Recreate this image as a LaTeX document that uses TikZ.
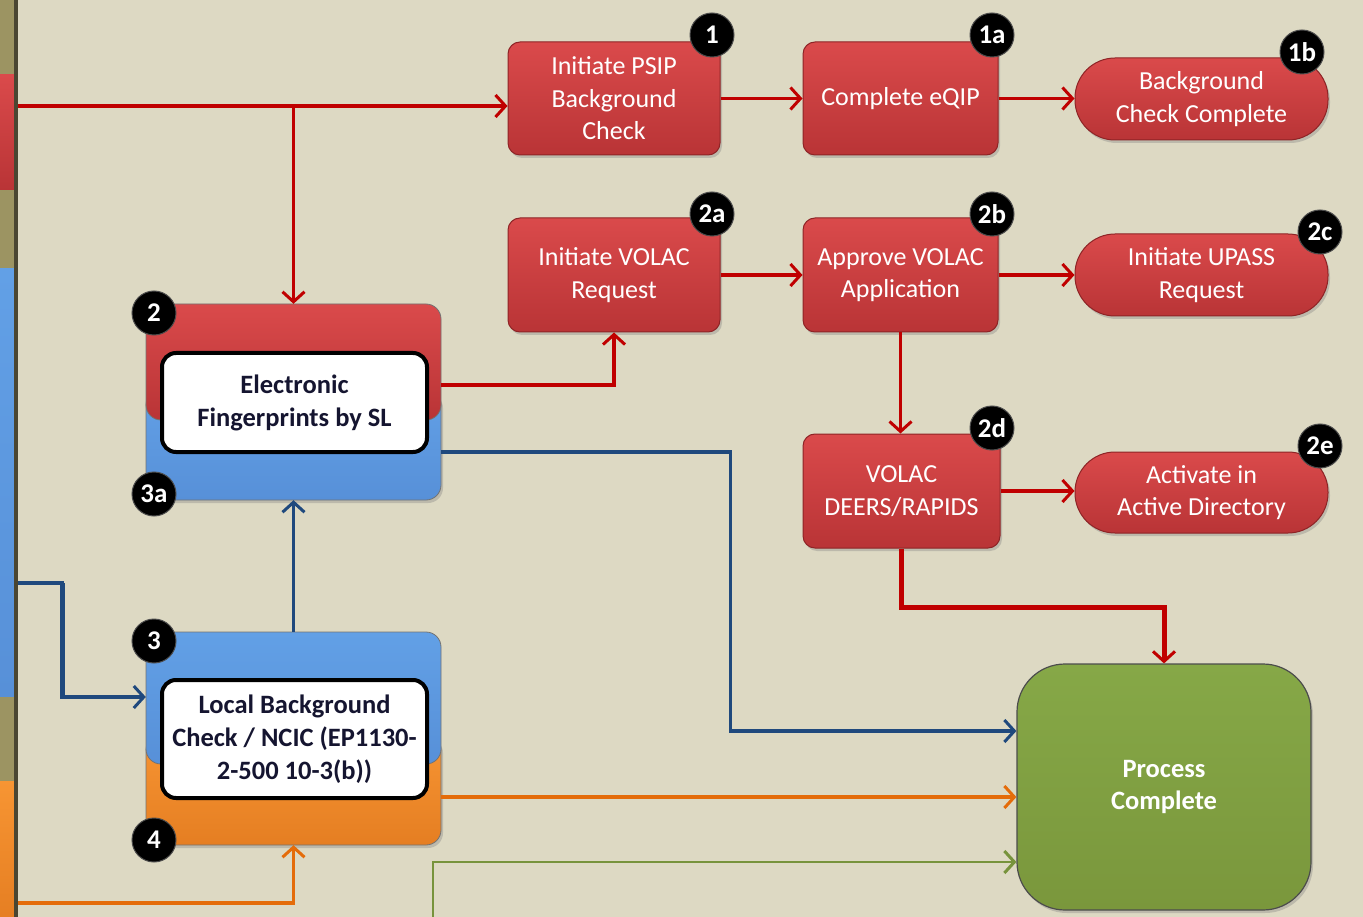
\documentclass[tikz,border=0pt]{standalone}
\usepackage{fontspec}
\setmainfont{Carlito}
\usetikzlibrary{arrows.meta,shadows}
\definecolor{bg}{HTML}{DDD9C3}
\definecolor{olive}{HTML}{9C9462}
\definecolor{stripdark}{HTML}{4A4632}
\definecolor{boxtop}{HTML}{DA4A4B}
\definecolor{boxbot}{HTML}{B93436}
\definecolor{boxedge}{HTML}{8E2426}
\definecolor{bluetop}{HTML}{62A0E6}
\definecolor{bluebot}{HTML}{5790D8}
\definecolor{orgtop}{HTML}{F79533}
\definecolor{orgbot}{HTML}{E57E22}
\definecolor{greentop}{HTML}{86A847}
\definecolor{greenbot}{HTML}{7A973C}
\definecolor{lred}{HTML}{C00000}
\definecolor{lblue}{HTML}{1F497D}
\definecolor{lorange}{HTML}{E46C0A}
\definecolor{lgreen}{HTML}{77933C}
\definecolor{navytext}{HTML}{151530}
\begin{document}
\begin{tikzpicture}[x=1pt,y=-1pt,
  redbox/.style={rectangle, rounded corners=12pt, draw=boxedge, line width=1pt,
    top color=boxtop, bottom color=boxbot, text=white,
    font=\fontsize{26}{32.5}\selectfont, align=center, inner sep=0pt,
    drop shadow={opacity=0.35, shadow xshift=2pt, shadow yshift=-3pt}},
  pill/.style={redbox, rounded corners=40pt},
  badge/.style={circle, fill=black, draw=black!70, line width=1pt, text=white,
    font=\bfseries\fontsize{27}{27}\selectfont, minimum size=44pt, inner sep=0pt},
  whitebox/.style={rectangle, rounded corners=14pt, draw=black, line width=4pt,
    fill=white, text=navytext, font=\bfseries\fontsize{26.5}{33}\selectfont,
    align=center, inner sep=0pt},
  frame/.style={rectangle, minimum width=295pt, inner sep=0pt},
  half/.style={rounded corners=15pt, draw=black!55, line width=0.8pt},
  conn/.style={line width=3.2pt, -{Straight Barb[length=10pt,width=22pt,line width=3pt]}},
  leftblock/.style={rectangle, inner sep=0pt, minimum width=14pt}
]
\useasboundingbox (0,0) rectangle (1363,917);
\fill[bg] (0,0) rectangle (1363,917);

% left strip
\fill[olive] (0,0) rectangle (15,917);
\node[leftblock, minimum height=115pt, top color=boxtop, bottom color=boxbot] (lr) at (7,132.5) {};
\node[leftblock, minimum height=427pt, top color=bluetop, bottom color=bluebot] (lb) at (7,482.5) {};
\node[leftblock, minimum height=140pt, top color=orgtop, bottom color=orgbot] (lo) at (7,851) {};
\fill[stripdark] (14,0) rectangle (18,917);

% red process boxes
\node[redbox, minimum width=212pt, minimum height=113pt] (n1) at (614,98.5) {Initiate PSIP\\Background\\Check};
\node[redbox, minimum width=195pt, minimum height=113pt] (n1a) at (900.5,98.5) {Complete eQIP};
\node[pill, minimum width=253pt, minimum height=82pt] (n1b) at (1201.5,99) {Background\\Check Complete};
\node[redbox, minimum width=212pt, minimum height=114pt] (n2a) at (614,275) {Initiate VOLAC\\Request};
\node[redbox, minimum width=195pt, minimum height=114pt] (n2b) at (900.5,275) {Approve VOLAC\\Application};
\node[pill, minimum width=253pt, minimum height=82pt] (n2c) at (1201.5,275) {Initiate UPASS\\Request};
\node[redbox, minimum width=197pt, minimum height=114pt] (n2d) at (901.5,491) {VOLAC\\DEERS/RAPIDS};
\node[pill, minimum width=253pt, minimum height=81pt] (n2e) at (1201.5,492.5) {Activate in\\Active Directory};

% combined box: fingerprints
\node[frame, minimum height=196pt] (fp) at (293.5,402) {};
\shade[half, top color=bluetop, bottom color=bluebot, drop shadow={opacity=0.35, shadow xshift=2pt, shadow yshift=-3pt}] (146,390) rectangle (441,500);
\shade[half, top color=boxtop, bottom color=boxbot] (146,304) rectangle (441,420);
\node[whitebox, minimum width=265pt, minimum height=99pt] (fpt) at (294.5,402.5) {Electronic\\Fingerprints by SL};

% combined box: local background check
\node[frame, minimum height=213pt] (lbc) at (293.5,738.5) {};
\shade[half, top color=orgtop, bottom color=orgbot, drop shadow={opacity=0.35, shadow xshift=2pt, shadow yshift=-3pt}] (146,735) rectangle (441,845);
\shade[half, top color=bluetop, bottom color=bluebot] (146,632) rectangle (441,764);
\node[whitebox, minimum width=265pt, minimum height=118pt] (lbct) at (294.5,739) {Local Background\\Check / NCIC (EP1130-\\2-500 10-3(b))};

% process complete
\node[rectangle, rounded corners=48pt, draw=black!70, line width=1.2pt,
  top color=greentop, bottom color=greenbot, text=white,
  font=\bfseries\fontsize{26.5}{32.5}\selectfont, align=center,
  minimum width=294pt, minimum height=246pt, inner sep=0pt,
  drop shadow={opacity=0.35, shadow xshift=2pt, shadow yshift=-3pt}] (pc) at (1164,787) {Process\\Complete};

% badges
\node[badge] (b1) at (712,35) {1};
\node[badge] (b1a) at (992,35) {1a};
\node[badge] (b1b) at (1302,52) {1b};
\node[badge] (b2a) at (712,214) {2a};
\node[badge] (b2b) at (992,214) {2b};
\node[badge] (b2c) at (1320,232) {2c};
\node[badge] (b2d) at (992,428) {2d};
\node[badge] (b2e) at (1320,446) {2e};
\node[badge] (b2) at (154,313) {2};
\node[badge] (b3a) at (154,494) {3a};
\node[badge] (b3) at (154,641) {3};
\node[badge] (b4) at (154,840) {4};

% connectors
\coordinate (s1) at (18,106);
\coordinate (s2) at (18,583);
\coordinate (s3) at (18,903);
\coordinate (g0) at (433,917);

\draw[conn, lred] (s1) -- (s1 -| n1.west);
\draw[conn, lred] (s1 -| fp.north) -- (fp.north);
\draw[conn, lred] (n1.east) -- (n1a.west);
\draw[conn, lred] (n1a.east) -- (n1a.east -| n1b.west);
\draw[conn, lred] (n2a.east) -- (n2b.west);
\draw[conn, lred] (n2b.east) -- (n2c.west);
\draw[conn, lred] (n2b.south) -- (n2b.south |- n2d.north);
\draw[conn, lred] (n2d.east) -- (n2d.east -| n2e.west);
\draw[conn, lred, line width=5pt] (n2d.south) -- ++(0,59) -| (pc.north);
\draw[conn, lred] ([yshift=17pt]fp.east) -| (n2a.south);

\draw[conn, lblue] ([yshift=-50pt]fp.east) -- ++(289,0) |- ([yshift=56pt]pc.west);
\draw[conn, lblue] (s2) -- ++(44,0) |- ([yshift=41.5pt]lbc.west);
\draw[lblue, line width=5pt] (62,583) -- (62,697);
\draw[conn, lblue] (lbc.north) -- (fp.south);

\draw[conn, lorange] ([yshift=-58.5pt]lbc.east) -- ([yshift=-10pt]pc.west);
\draw[conn, lorange] (s3) -| (lbc.south);

\draw[conn, lgreen, line width=2.6pt] (g0) |- ([yshift=-75pt]pc.west);
\end{tikzpicture}
\end{document}
